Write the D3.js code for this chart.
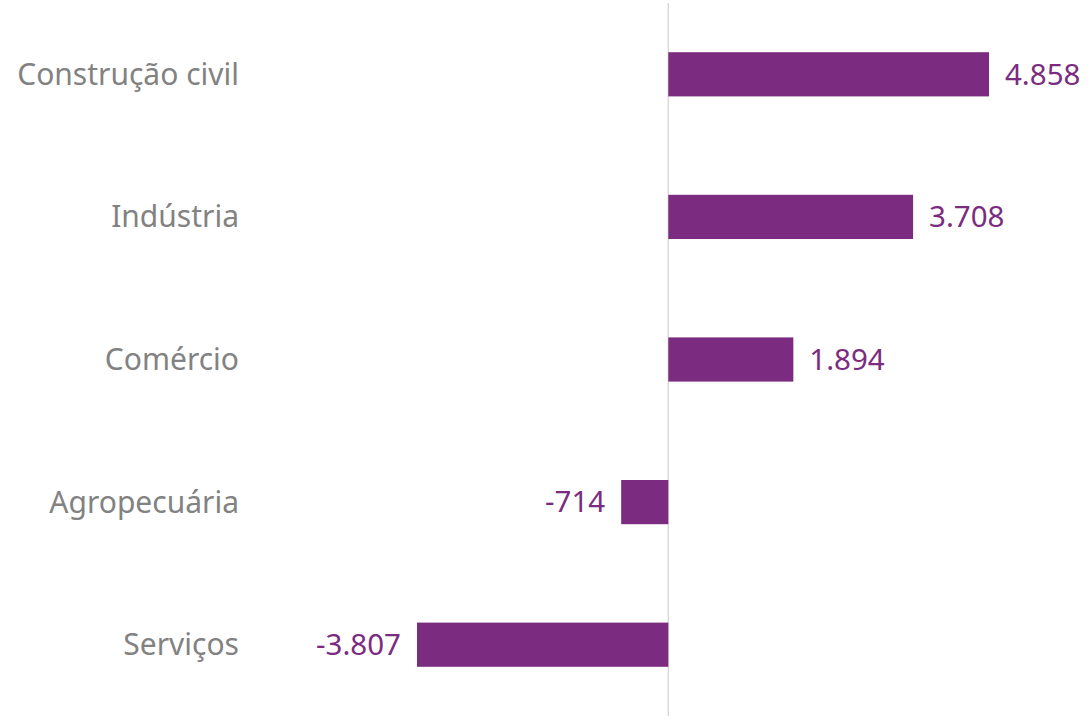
<!DOCTYPE html>
<html>
<head>
<meta charset="utf-8">
<script src="https://cdn.jsdelivr.net/npm/d3@7"></script>
<style>
  body { margin: 0; background: #fff; }
  svg text { font-family: "Noto Sans", "Open Sans", sans-serif; }
</style>
</head>
<body>
<div id="chart"></div>
<script>
// Data
var categories = ['Construção civil', 'Indústria', 'Comércio', 'Agropecuária', 'Serviços'];
var values = [4858, 3708, 1894, -714, -3807];
var valueLabels = ['4.858', '3.708', '1.894', '-714', '-3.807'];

var width = 1089, height = 721;
var barColor = '#7b2c80';

var svg = d3.select('#chart').append('svg')
    .attr('width', width)
    .attr('height', height);

// x scale: zero sits at ~668px
var x = d3.scaleLinear()
    .domain([-3807, 4858])
    .range([417, 989]);

var y = d3.scaleBand()
    .domain(categories)
    .range([3, 716])
    .paddingInner(0.69)
    .paddingOuter(0.345);

var rows = categories.map(function(c, i) {
    return {name: c, value: values[i], label: valueLabels[i]};
});

// zero line
svg.append('line')
    .attr('x1', x(0)).attr('x2', x(0))
    .attr('y1', 3).attr('y2', height - 5)
    .style('stroke', '#d9d9d9')
    .style('stroke-width', 1.5);

// bars
svg.append('g').selectAll('rect')
    .data(rows)
    .enter().append('rect')
    .attr('x', function(d) {return x(Math.min(0, d.value));})
    .attr('y', function(d) {return y(d.name);})
    .attr('width', function(d) {return Math.abs(x(d.value) - x(0));})
    .attr('height', y.bandwidth())
    .style('fill', barColor);

// category labels
svg.append('g').selectAll('text')
    .data(rows)
    .enter().append('text')
    .attr('x', 239)
    .attr('y', function(d) {return y(d.name) + y.bandwidth() / 2;})
    .attr('dy', '0.35em')
    .attr('text-anchor', 'end')
    .style('font-size', '30px')
    .style('fill', '#828282')
    .text(function(d) {return d.name;});

// value labels
svg.append('g').selectAll('text')
    .data(rows)
    .enter().append('text')
    .attr('x', function(d) {return d.value >= 0 ? x(d.value) + 16 : x(d.value) - 16;})
    .attr('y', function(d) {return y(d.name) + y.bandwidth() / 2;})
    .attr('dy', '0.35em')
    .attr('text-anchor', function(d) {return d.value >= 0 ? 'start' : 'end';})
    .style('font-size', '29.5px')
    .style('fill', barColor)
    .text(function(d) {return d.label;});
</script>
</body>
</html>
